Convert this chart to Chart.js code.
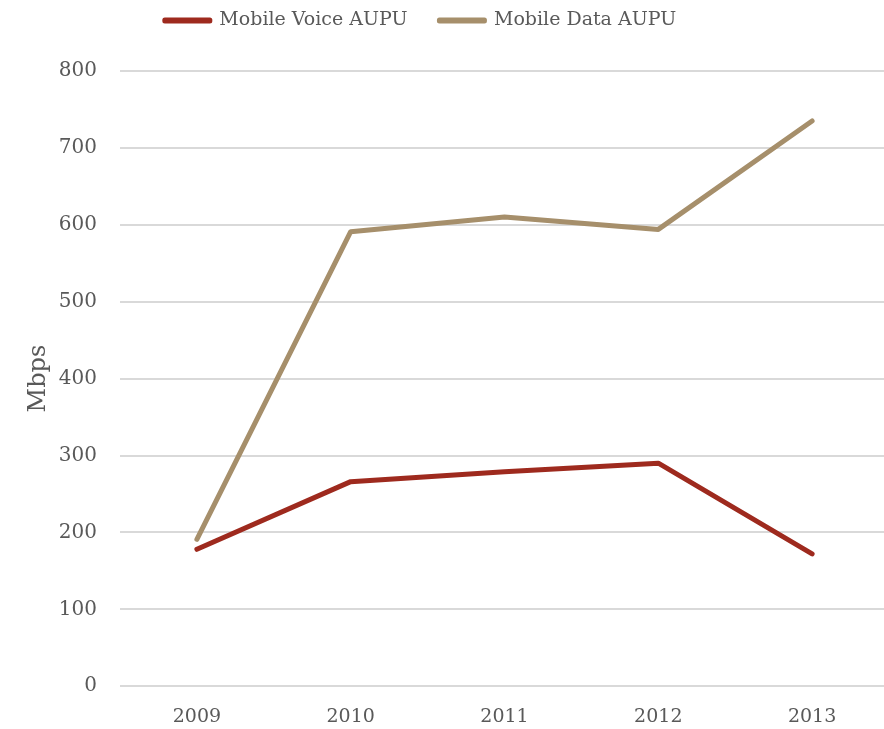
<!DOCTYPE html>
<html><head><meta charset="utf-8">
<script src="https://cdn.jsdelivr.net/npm/chart.js@4/dist/chart.umd.min.js"></script>
<style>html,body{margin:0;padding:0;background:#fff;overflow:hidden}#w{width:889px;height:729px}</style>
</head><body><div id="w"><canvas id="c"></canvas></div>
<script>
const categories = ["2009","2010","2011","2012","2013"];
const voiceValues = [178, 266, 279, 290, 172];
const dataValues = [191, 591, 610, 594, 735];
const yTicks = [0,100,200,300,400,500,600,700,800];

const FONT = "'DejaVu Serif', serif";
const TXT = "#595959";
const legendTweak = {
  id: 'legendTweak',
  beforeInit(chart) {
    const lg = chart.legend;
    const origFit = lg.fit;
    lg.fit = function() { origFit.call(this); this.height += 10; };
    const origDraw = lg.draw;
    lg.draw = function() {
      const ctx = this.ctx;
      ctx.save(); ctx.translate(-24, -21); origDraw.apply(this, arguments); ctx.restore();
    };
  }
};
new Chart(document.getElementById('c'), {
  type: 'line',
  data: {
    labels: categories,
    datasets: [
      {label: 'Mobile Voice AUPU', data: voiceValues, borderColor: '#9E2A1E', backgroundColor: '#9E2A1E', borderWidth: 5, pointRadius: 0, tension: 0, borderCapStyle: 'round', borderJoinStyle: 'round'},
      {label: 'Mobile Data AUPU', data: dataValues, borderColor: '#A68F6B', backgroundColor: '#A68F6B', borderWidth: 5, pointRadius: 0, tension: 0, borderCapStyle: 'round', borderJoinStyle: 'round'}
    ]
  },
  options: {
    responsive: true, maintainAspectRatio: false, animation: false,
    layout: {padding: {left: 0, right: 0, top: 0, bottom: -18}},
    plugins: {
      legend: {position: 'top', labels: {boxWidth: 45, boxHeight: 1, padding: 32, color: TXT, font: {family: FONT, size: 19}}},
      tooltip: {enabled: false}
    },
    scales: {
      x: {offset: true, grid: {display: false, drawTicks: false}, border: {display: false},
          ticks: {color: TXT, font: {family: FONT, size: 19}, padding: 19}},
      y: {min: 0, max: 800, afterBuildTicks: (s) => { s.ticks = yTicks.map(v => ({value: v})); },
          afterFit: (s) => { s.width = 120; },
          grid: {color: '#D9D9D9', lineWidth: 2, drawTicks: false}, border: {display: false},
          ticks: {color: TXT, font: {family: FONT, size: 20}, padding: 23},
          title: {display: true, text: 'Mbps', color: TXT, font: {family: FONT, size: 24}, padding: {top: 24, bottom: 0}}}
    }
  },
  plugins: [legendTweak]
});
</script></body></html>
